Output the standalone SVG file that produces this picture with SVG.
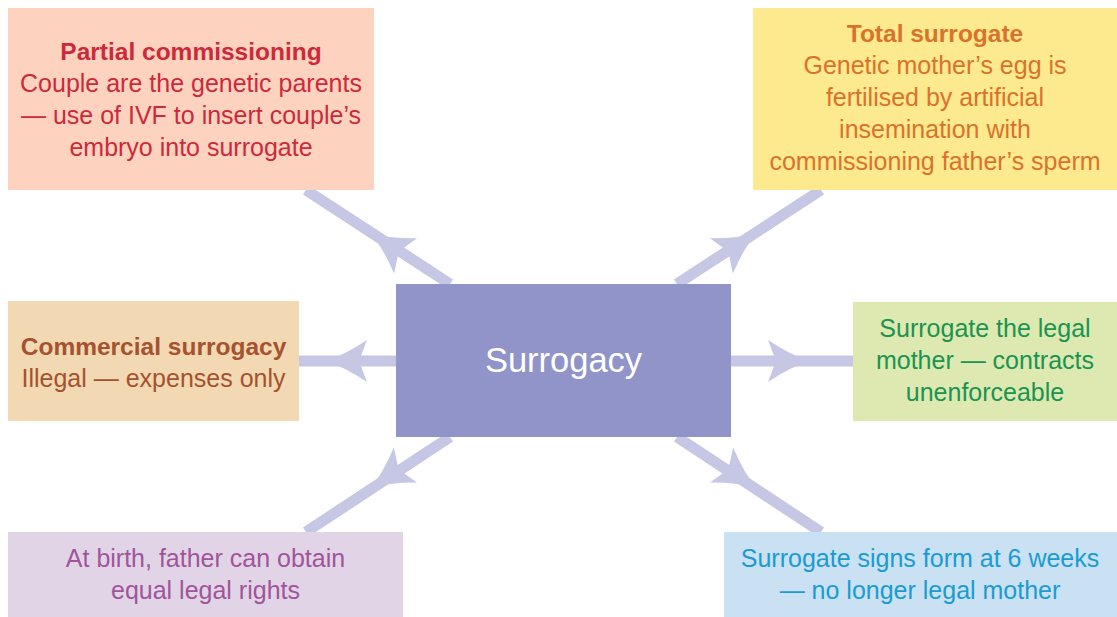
<svg xmlns="http://www.w3.org/2000/svg" width="1117" height="617" viewBox="0 0 1117 617">
<style>
text{font-family:"Liberation Sans",Arial,sans-serif;font-size:25px;text-anchor:middle}
.b{font-weight:bold;font-size:24.5px}
.ln{stroke:#c5c7e4;stroke-width:11;fill:none}
.ah{fill:#c5c7e4}
</style>
<defs>
<path id="ah" d="M2,0 Q-16,-5 -40,-21 L-32,0 L-40,21 Q-16,5 2,0 Z"/>
</defs>
<rect width="1117" height="617" fill="#ffffff"/>
<g id="connectors">
<line class="ln" x1="450" y1="284" x2="306" y2="190"/>
<line class="ln" x1="677" y1="284" x2="821" y2="190"/>
<line class="ln" x1="396" y1="361" x2="299" y2="361"/>
<line class="ln" x1="731" y1="361" x2="853" y2="361"/>
<line class="ln" x1="450" y1="437" x2="306" y2="532"/>
<line class="ln" x1="677" y1="437" x2="821" y2="532"/>
<use href="#ah" class="ah" transform="translate(372,234) rotate(213.1)"/>
<use href="#ah" class="ah" transform="translate(755,234) rotate(-33.1)"/>
<use href="#ah" class="ah" transform="translate(327,361) rotate(180)"/>
<use href="#ah" class="ah" transform="translate(808,361)"/>
<use href="#ah" class="ah" transform="translate(372,487) rotate(146.6)"/>
<use href="#ah" class="ah" transform="translate(755,487) rotate(33.4)"/>
</g>
<g id="center">
<rect x="396" y="284" width="335" height="153" fill="#9194c8"/>
<text x="563.5" y="372" fill="#ffffff" style="font-size:34.5px">Surrogacy</text>
</g>
<g id="partial">
<rect x="8" y="8" width="366" height="182" fill="#fdd3c0"/>
<g fill="#cc2a3a">
<text class="b" x="191" y="60">Partial commissioning</text>
<text x="191" y="92">Couple are the genetic parents</text>
<text x="191" y="124">— use of IVF to insert couple’s</text>
<text x="191" y="156">embryo into surrogate</text>
</g>
</g>
<g id="total">
<rect x="753" y="8" width="364" height="182" fill="#fde98e"/>
<g fill="#d9732c">
<text class="b" x="935" y="42">Total surrogate</text>
<text x="935" y="74">Genetic mother’s egg is</text>
<text x="935" y="106">fertilised by artificial</text>
<text x="935" y="138">insemination with</text>
<text x="935" y="170">commissioning father’s sperm</text>
</g>
</g>
<g id="commercial">
<rect x="8" y="301" width="291" height="120" fill="#f2d9b4"/>
<g fill="#a5522e">
<text class="b" x="153.5" y="355">Commercial surrogacy</text>
<text x="153.5" y="387">Illegal — expenses only</text>
</g>
</g>
<g id="legal">
<rect x="853" y="302" width="264" height="119" fill="#dde9b0"/>
<g fill="#1a9450">
<text x="985" y="337">Surrogate the legal</text>
<text x="985" y="369">mother — contracts</text>
<text x="985" y="401">unenforceable</text>
</g>
</g>
<g id="birth">
<rect x="8" y="532" width="395" height="85" fill="#e2d4e7"/>
<g fill="#a0559a">
<text x="205.5" y="567">At birth, father can obtain</text>
<text x="205.5" y="599">equal legal rights</text>
</g>
</g>
<g id="signs">
<rect x="724" y="532" width="393" height="85" fill="#c9e1f2"/>
<g fill="#1a9cd0">
<text x="920" y="567">Surrogate signs form at 6 weeks</text>
<text x="920" y="599">— no longer legal mother</text>
</g>
</g>
</svg>
